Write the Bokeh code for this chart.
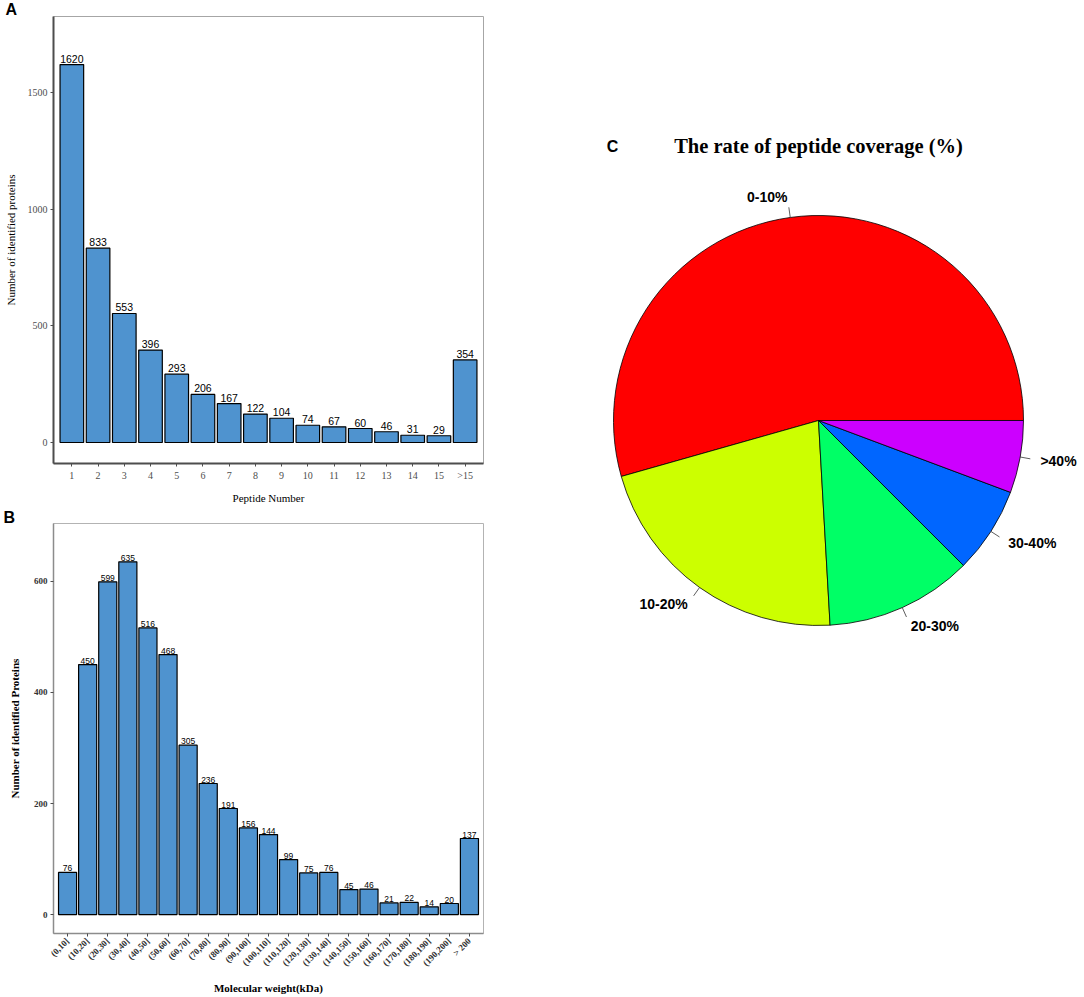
import math
from bokeh.plotting import figure
from bokeh.models import FactorRange, Range1d, FixedTicker, Label, ColumnDataSource, Title
from bokeh.layouts import row, column
from bokeh.embed import file_html
from bokeh.resources import INLINE
from bokeh.core.properties import value

# ---------------- data ----------------
pep_cats = ["1", "2", "3", "4", "5", "6", "7", "8", "9", "10", "11", "12", "13", "14", "15", ">15"]
pep_vals = [1620, 833, 553, 396, 293, 206, 167, 122, 104, 74, 67, 60, 46, 31, 29, 354]
pep_yticks = [0, 500, 1000, 1500]

mw_cats = ["(0,10]", "(10,20]", "(20,30]", "(30,40]", "(40,50]", "(50,60]", "(60,70]",
           "(70,80]", "(80,90]", "(90,100]", "(100,110]", "(110,120]", "(120,130]",
           "(130,140]", "(140,150]", "(150,160]", "(160,170]", "(170,180]", "(180,190]",
           "(190,200]", "> 200"]
mw_vals = [76, 450, 599, 635, 516, 468, 305, 236, 191, 156, 144, 99, 75, 76, 45, 46, 21, 22, 14, 20, 137]
mw_yticks = [0, 200, 400, 600]

cov_labels = ["0-10%", "10-20%", "20-30%", "30-40%", ">40%"]
cov_vals = [54.4, 21.5, 11.6, 6.8, 5.7]
cov_colors = ["#FF0000", "#CCFF00", "#00FF66", "#0066FF", "#CC00FF"]

BAR = "#4F93CF"
SERIF = "Liberation Serif"
SANS = "Liberation Sans"
LEFT_W = 540

# ---------------- panel A ----------------
pA = figure(width=LEFT_W, height=508, title=None,
            x_range=FactorRange(*pep_cats, range_padding=0.2, range_padding_units="absolute"),
            y_range=Range1d(-90, 1826),
            output_backend="svg", toolbar_location=None,
            min_border_left=51, min_border_right=57, min_border_top=0, min_border_bottom=45)
pA.add_layout(Title(text="A", align="left", offset=-48, standoff=-3,
                    text_font=SANS, text_font_style="bold", text_font_size="16px",
                    text_color="black"), "above")
srcA = ColumnDataSource(dict(cat=pep_cats, val=pep_vals, lbl=[str(v) for v in pep_vals]))
pA.vbar(x="cat", top="val", bottom=0, width=0.9, source=srcA,
        fill_color=BAR, line_color="black", line_width=1.2)
pA.text(x="cat", y="val", text="lbl", source=srcA, text_align="center", text_baseline="bottom",
        y_offset=-2, text_font=value(SANS), text_font_size="10.5px", text_color="black")
pA.xgrid.visible = False
pA.ygrid.visible = False
pA.outline_line_color = "#a6a6a6"
pA.outline_line_width = 1
pA.yaxis.ticker = FixedTicker(ticks=pep_yticks)
pA.xaxis.axis_label = "Peptide Number"
pA.yaxis.axis_label = "Number of identified proteins"
for ax in (pA.xaxis[0], pA.yaxis[0]):
    ax.axis_line_color = "#4d4d4d"
    ax.axis_line_width = 2
    ax.major_tick_line_color = "#4d4d4d"
    ax.major_tick_in = 0
    ax.major_tick_out = 3
    ax.minor_tick_line_color = None
    ax.major_label_text_font = SERIF
    ax.major_label_text_font_size = "10px"
    ax.major_label_text_color = "#4d4d4d"
    ax.axis_label_text_font = SERIF
    ax.axis_label_text_font_size = "11px"
    ax.axis_label_text_font_style = "normal"
    ax.axis_label_text_color = "black"
    ax.major_label_standoff = 3
pA.xaxis.axis_label_standoff = 8
pA.yaxis.axis_label_standoff = 8

# ---------------- panel B ----------------
pB = figure(width=LEFT_W, height=489, title=None,
            x_range=FactorRange(*mw_cats, range_padding=0.2, range_padding_units="absolute"),
            y_range=Range1d(-34, 704),
            output_backend="svg", toolbar_location=None,
            min_border_left=53, min_border_right=41, min_border_top=0, min_border_bottom=62)
pB.add_layout(Title(text="B", align="left", offset=-50, standoff=-4,
                    text_font=SANS, text_font_style="bold", text_font_size="16px",
                    text_color="black"), "above")
srcB = ColumnDataSource(dict(cat=mw_cats, val=mw_vals, lbl=[str(v) for v in mw_vals]))
pB.vbar(x="cat", top="val", bottom=0, width=0.9, source=srcB,
        fill_color=BAR, line_color="black", line_width=1.2)
pB.text(x="cat", y="val", text="lbl", source=srcB, text_align="center", text_baseline="bottom",
        y_offset=-1, text_font=value(SANS), text_font_size="8.5px", text_color="black")
pB.xgrid.visible = False
pB.ygrid.visible = False
pB.outline_line_color = "#b3b3b3"
pB.outline_line_width = 1
pB.yaxis.ticker = FixedTicker(ticks=mw_yticks)
pB.xaxis.axis_label = "Molecular weight(kDa)"
pB.yaxis.axis_label = "Number of identified Proteins"
for ax in (pB.xaxis[0], pB.yaxis[0]):
    ax.axis_line_color = "#8c8c8c"
    ax.axis_line_width = 1.5
    ax.major_tick_line_color = "#4d4d4d"
    ax.major_tick_in = 0
    ax.major_tick_out = 3
    ax.minor_tick_line_color = None
    ax.major_label_text_font = SERIF
    ax.major_label_text_font_size = "9px"
    ax.major_label_text_font_style = "bold"
    ax.major_label_text_color = "#333333"
    ax.axis_label_text_font = SERIF
    ax.axis_label_text_font_size = "11px"
    ax.axis_label_text_font_style = "bold"
    ax.axis_label_text_color = "black"
    ax.major_label_standoff = 3
pB.xaxis.major_label_orientation = math.pi / 4
pB.xaxis.axis_label_standoff = 8
pB.yaxis.axis_label_standoff = 10

# ---------------- panel C (pie) ----------------
W, H = 1084 - LEFT_W, 660
pC = figure(width=W, height=H, title=None, x_range=Range1d(0, W), y_range=Range1d(0, H),
            output_backend="svg", toolbar_location=None,
            x_axis_location=None, y_axis_location=None,
            min_border=0, min_border_left=0, min_border_right=0, min_border_top=0, min_border_bottom=0)
pC.xgrid.visible = False
pC.ygrid.visible = False
pC.outline_line_color = None
cx, cy, r = 818 - LEFT_W, H - 420, 205
total = sum(cov_vals)
starts, ends, mids = [], [], []
acc = 0.0
for v in cov_vals:
    a0 = 2 * math.pi * acc / total
    acc += v
    a1 = 2 * math.pi * acc / total
    starts.append(a0)
    ends.append(a1)
    mids.append((a0 + a1) / 2)
pC.wedge(x=cx, y=cy, radius=r, start_angle=starts, end_angle=ends, direction="anticlock",
         fill_color=cov_colors, line_color="black", line_width=0.8)
x0 = [cx + r * math.cos(m) for m in mids]
y0 = [cy + r * math.sin(m) for m in mids]
x1 = [cx + 1.05 * r * math.cos(m) for m in mids]
y1 = [cy + 1.05 * r * math.sin(m) for m in mids]
pC.segment(x0=x0, y0=y0, x1=x1, y1=y1, line_color="#333333", line_width=0.8)
lx = [cx + 1.1 * r * math.cos(m) for m in mids]
ly = [cy + 1.1 * r * math.sin(m) for m in mids]
lal = ["left" if math.cos(m) > 0 else "right" for m in mids]
srcC = ColumnDataSource(dict(x=lx, y=ly, t=cov_labels, al=lal))
pC.text(x="x", y="y", text="t", text_align="al", text_baseline="middle", source=srcC,
        text_font=value(SANS), text_font_style="bold", text_font_size="14px", text_color="black")
pC.add_layout(Label(x=cx, y=H - 145, text="The rate of peptide coverage (%)",
                    text_font=SERIF, text_font_style="bold", text_font_size="20.5px",
                    text_color="black", text_align="center", text_baseline="middle"))
pC.add_layout(Label(x=612 - LEFT_W, y=H - 146, text="C", text_font=SANS, text_font_style="bold",
                    text_font_size="16px", text_color="black",
                    text_align="center", text_baseline="middle"))

layout = row(column(pA, pB), pC)
open("out.html", "w").write(file_html(layout, INLINE))
